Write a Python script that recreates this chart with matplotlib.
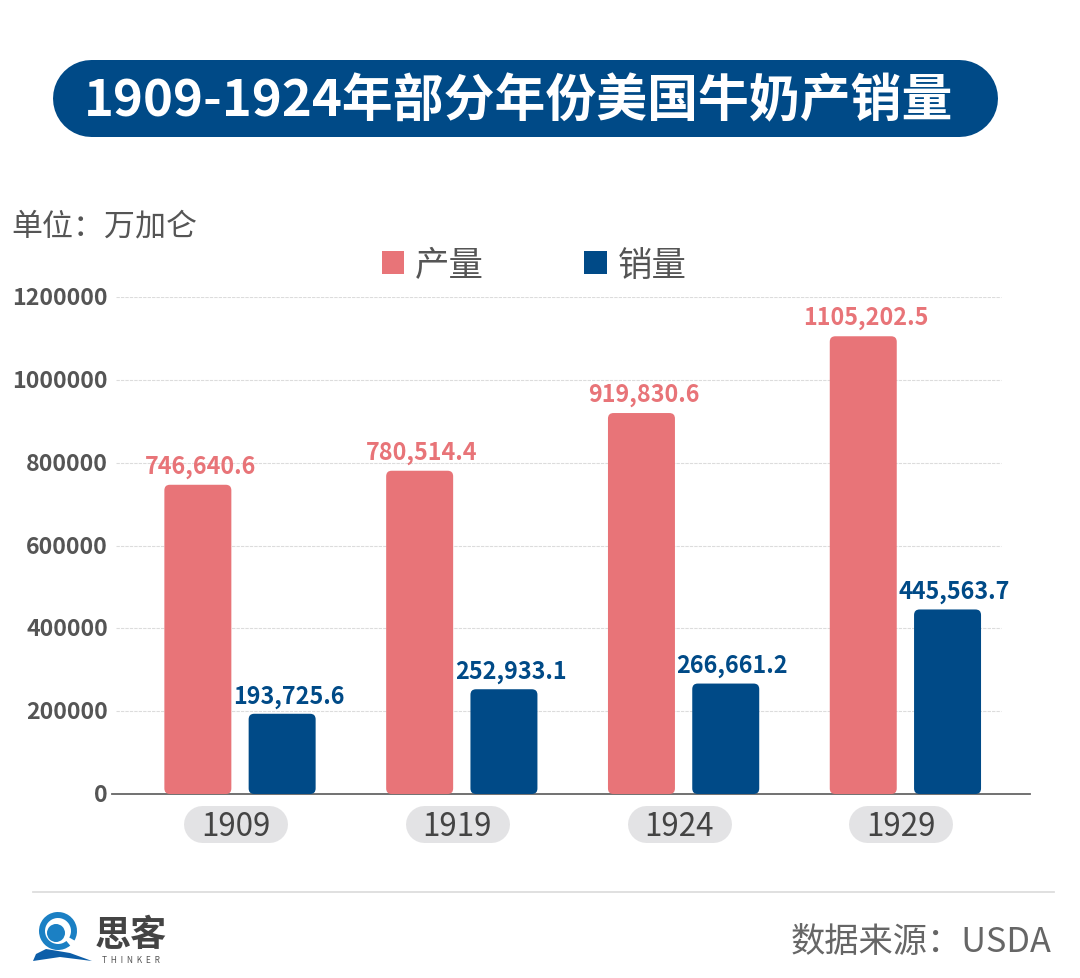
import numpy as np
from matplotlib import pyplot as plt
from matplotlib.patches import FancyBboxPatch, Circle, Polygon, Wedge
from matplotlib.transforms import ScaledTranslation
plt.rcParams['font.family'] = ['Noto Sans CJK SC', 'DejaVu Sans']

years = ['1909', '1919', '1924', '1929']
production = [746640.6, 780514.4, 919830.6, 1105202.5]
sales = [193725.6, 252933.1, 266661.2, 445563.7]
prodLabels = ['746,640.6', '780,514.4', '919,830.6', '1105,202.5']
salesLabels = ['193,725.6', '252,933.1', '266,661.2', '445,563.7']
yTicks = [0, 200000, 400000, 600000, 800000, 1000000, 1200000]
prodColor = '#e87478'
salesColor = '#004a87'

#creating figures
fig = plt.figure(figsize = [10.8,9.79], dpi = 100)
ax = fig.add_axes([112/1080, 184/979, 918/1080, 497/979])
ax.set_xlim(-128/221.8, 790/221.8)
ax.set_ylim(0, 1200000)
xVals = np.arange(len(years))

#plotting each data
bars1 = ax.bar(xVals - 0.19, production, width = 0.302, color = prodColor, label = '产量')
bars2 = ax.bar(xVals + 0.19, sales, width = 0.302, color = salesColor, label = '销量')
leg = ax.legend(loc = 'lower left', bbox_to_anchor = (0.294, 1.029), ncol = 2, frameon = False, fontsize = 24.8,
                labelcolor = '#555555', handlelength = 0.65, handleheight = 0.65, handletextpad = 0.32,
                columnspacing = 2.9, borderpad = 0, borderaxespad = 0)

#swapping the bars for rounded ones
aspect = (1200000/497)*221.8
for bar in list(bars1) + list(bars2):
    ax.add_patch(FancyBboxPatch((bar.get_x(), 0), bar.get_width(), bar.get_height(),
                                boxstyle = 'round,pad=0,rounding_size=0.025', mutation_aspect = aspect,
                                fc = bar.get_facecolor(), ec = 'none', zorder = 3, clip_on = False))
    bar.set_visible(False)

#value labels
for x, val, txt in zip(xVals, production, prodLabels):
    ax.annotate(txt, (x - 0.18, val), xytext = (0,5), textcoords = 'offset points', ha = 'center', va = 'bottom',
                color = prodColor, size = 16.8, weight = 'bold')
for x, val, txt in zip(xVals, sales, salesLabels):
    ax.annotate(txt, (x + 0.22, val), xytext = (0,4.5), textcoords = 'offset points', ha = 'center', va = 'bottom',
                color = salesColor, size = 16.8, weight = 'bold')

#formatting figure
ax.hlines(yTicks[1:], -0.56, 3.43, color = '#dcdcdc', linewidth = 0.8, linestyle = (0,(3,1)), zorder = 1)
ax.set_yticks(yTicks)
ax.set_yticklabels([str(t) for t in yTicks], size = 16.7, weight = 'bold', color = '#555555')
ax.set_xticks(xVals - 0.02)
ax.set_xticklabels(years, size = 22.5, color = '#444444')
ax.tick_params(axis = 'y', length = 0, pad = 3)
ax.tick_params(axis = 'x', length = 0, pad = 11.5)
nudge = ScaledTranslation(0, 2/100, fig.dpi_scale_trans) #y labels sit 2 pixels high
for lab in ax.get_yticklabels():
    lab.set_transform(lab.get_transform() + nudge)
for side in ['top', 'left', 'right']:
    ax.spines[side].set_visible(False)
ax.spines['bottom'].set_color('#666666')
ax.spines['bottom'].set_linewidth(1.3)

#everything outside the chart, in pixels
bg = fig.add_axes([0,0,1,1], zorder = -1)
bg.set_xlim(0, 1080)
bg.set_ylim(979, 0)
bg.axis('off')
bg.plot([91,958.5], [98.5,98.5], color = salesColor, linewidth = 77*0.72, solid_capstyle = 'round')
bg.text(519, 102, '1909-1924年部分年份美国牛奶产销量', size = 36.6, weight = 'bold', color = 'white', ha = 'center', va = 'center')
bg.text(11, 227, '单位：万加仑', size = 22.3, color = '#555555', ha = 'left', va = 'center')
bg.plot([33,1054], [893,893], color = '#dddddd', linewidth = 1.3)
bg.text(1052, 943, '数据来源：USDA', size = 24.7, color = '#666666', ha = 'right', va = 'center')

#grey pills behind the years
for x in xVals:
    bg.plot([202+221.8*x,269+221.8*x], [824.5,824.5], color = '#e3e3e5', linewidth = 37*0.72, solid_capstyle = 'round')

#logo
bg.add_patch(Wedge((58,932), 19, 50, 390, width = 6, fc = '#1b80c4', ec = 'none'))
bg.add_patch(Circle((56,934), 9, fc = '#1b80c4', ec = 'none'))
bg.add_patch(Polygon([[33,962],[36,955],[46,950],[70,954],[92,962],[60,958]], fc = '#0d5ea8', ec = 'none'))
bg.text(131, 936, '思客', size = 26, weight = 'bold', color = '#444444', ha = 'center', va = 'center')
bg.text(131, 961, 'T  H  I  N  K  E  R', size = 6, color = '#555555', ha = 'center', va = 'center')

fig.savefig('out.png', dpi = 100)
